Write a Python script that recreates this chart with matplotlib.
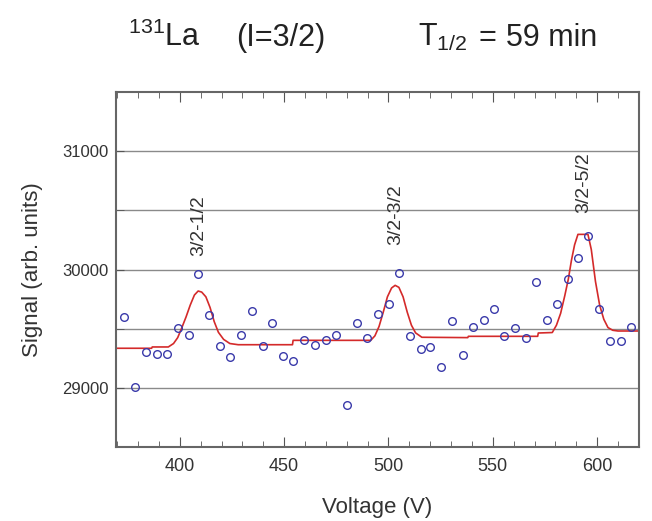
import matplotlib
matplotlib.use("Agg")
import matplotlib.pyplot as plt
from matplotlib.ticker import MultipleLocator

plt.rcParams['font.family'] = ['Liberation Sans', 'DejaVu Sans']
plt.rcParams['mathtext.fontset'] = 'custom'
plt.rcParams['mathtext.rm'] = 'Liberation Sans'
plt.rcParams['mathtext.it'] = 'Liberation Sans'

# measured signal
voltage = [373.3, 378.7, 383.7, 388.9, 394.0, 399.1, 404.3, 408.7, 413.8, 419.1,
           424.2, 429.3, 434.6, 439.7, 444.2, 449.3, 454.4, 459.6, 464.9, 469.9,
           475.0, 480.1, 484.7, 489.8, 494.8, 500.2, 505.1, 510.3, 515.4, 520.0,
           525.1, 530.4, 535.5, 540.6, 545.7, 550.6, 555.4, 560.4, 565.7, 570.7,
           575.9, 581.0, 586.1, 590.7, 595.8, 600.9, 606.0, 611.2, 616.4]
signal = [29597, 29005, 29307, 29287, 29287, 29506, 29447, 29960, 29616, 29354,
          29265, 29447, 29648, 29358, 29546, 29267, 29227, 29405, 29366, 29405,
          29447, 28853, 29546, 29425, 29628, 29713, 29969, 29436, 29326, 29343,
          29174, 29569, 29276, 29515, 29577, 29667, 29436, 29506, 29425, 29899,
          29577, 29709, 29918, 30101, 30284, 29667, 29396, 29396, 29512]

# fitted curve
fit_v = [369.3, 386.5, 386.8, 394.5, 397.0, 399.0, 401.0, 403.0, 405.0, 407.0,
         408.8, 410.5, 412.5, 414.5, 416.5, 418.5, 421.0, 424.0, 428.0, 454.0,
         454.3, 491.5, 493.5, 495.5, 497.5, 499.5, 501.5, 503.2, 505.0, 507.0,
         509.0, 511.0, 513.0, 516.0, 538.0, 538.3, 571.5, 571.8, 578.5, 580.5,
         582.5, 584.5, 586.2, 587.7, 589.2, 590.8, 595.6, 597.2, 599.2, 601.2,
         603.2, 605.2, 607.5, 610.0, 620.0]
fit_s = [29335, 29335, 29346, 29346, 29375, 29425, 29510, 29600, 29700, 29785,
         29819, 29810, 29770, 29680, 29560, 29470, 29410, 29375, 29365, 29365,
         29402, 29402, 29440, 29520, 29640, 29770, 29845, 29867, 29850, 29770,
         29640, 29530, 29465, 29428, 29425, 29436, 29436, 29464, 29468, 29530,
         29630, 29780, 29920, 30080, 30210, 30298, 30298, 30170, 29900, 29700,
         29580, 29510, 29487, 29481, 29481]

# transition labels
trans_labels = ['3/2-1/2', '3/2-3/2', '3/2-5/2']
trans_v = [409.2, 503.3, 593.6]
trans_s = [30115, 30205, 30482]

fig = plt.figure(figsize=(6.52, 5.21), dpi=100)
ax = fig.add_axes([0.1775, 0.142, 0.803, 0.681])

for yg in [29000, 29500, 30000, 30500, 31000]:
    ax.axhline(yg, color='#8a8a8a', lw=1.0, zorder=1)

ax.plot(fit_v, fit_s, color='#d42a2a', lw=1.2, zorder=2)
ax.plot(voltage, signal, 'o', ms=5.5, mfc='none', mec='#3a3aaa', mew=1.0, zorder=3)

for lab, xv, yv in zip(trans_labels, trans_v, trans_s):
    ax.text(xv, yv, lab, rotation=90, ha='center', va='bottom',
            fontsize=14, color='#333333')

ax.set_xlim(369.3, 620.2)
ax.set_ylim(28500, 31500)
ax.xaxis.set_major_locator(MultipleLocator(50))
ax.xaxis.set_minor_locator(MultipleLocator(10))
ax.yaxis.set_major_locator(MultipleLocator(1000))
ax.yaxis.set_minor_locator(MultipleLocator(500))
ax.tick_params(axis='x', which='both', direction='in', top=True, colors='#555555',
               labelcolor='#333333', labelsize=13, pad=8)
ax.tick_params(axis='x', which='major', length=7)
ax.tick_params(axis='x', which='minor', length=4)
ax.tick_params(axis='y', which='both', direction='in', right=False, length=6,
               colors='#555555', labelcolor='#333333', labelsize=12, pad=5)
for sp in ax.spines.values():
    sp.set_color('#666666')
    sp.set_linewidth(1.5)

ax.set_xlabel('Voltage (V)', fontsize=16, color='#333333', labelpad=16)
ax.set_ylabel('Signal (arb. units)', fontsize=16, color='#333333', labelpad=14)

# title, placed piece by piece
ty = 1 - 46 / 521
title_parts = [(128, r'$^{131}$La'), (236, '(I=3/2)'), (418, r'T$_{1/2}$'),
               (478, '='), (506, '59 min')]
for px, txt in title_parts:
    fig.text(px / 652, ty, txt, ha='left', va='baseline',
             fontsize=22, color='#222222')

fig.savefig('out.png', dpi=100)
